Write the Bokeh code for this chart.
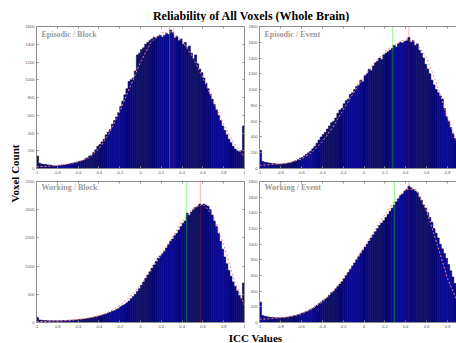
import math
from bokeh.plotting import figure
from bokeh.layouts import column, row
from bokeh.models import LinearAxis, FixedTicker, Range1d, Label, Span
from bokeh.embed import file_html
from bokeh.resources import INLINE

# ---------------- data ----------------
bin_centers = [round(-0.99 + 0.02 * i, 2) for i in range(100)]
bin_width = 0.02

episodic_block = [140, 60, 50, 45, 45, 40, 40, 35, 30, 28,
                  35, 35, 40, 40, 45, 50, 55, 60, 65, 70,
                  80, 85, 90, 110, 120, 140, 150, 180, 210, 250,
                  270, 300, 330, 380, 410, 440, 500, 540, 580, 630,
                  700, 760, 830, 900, 980, 1000, 1020, 1100, 1280, 1300,
                  1340, 1360, 1400, 1420, 1440, 1460, 1480, 1470, 1490, 1500,
                  1480, 1500, 1520, 1510, 1560, 1530, 1470, 1490, 1440, 1460,
                  1400, 1420, 1360, 1380, 1300, 1240, 1280, 1180, 1120, 1080,
                  1020, 960, 900, 840, 780, 720, 660, 600, 540, 480,
                  430, 380, 330, 290, 250, 220, 200, 190, 200, 480]

episodic_event = [230, 90, 80, 75, 70, 65, 60, 60, 55, 55,
                  55, 60, 60, 65, 70, 80, 90, 100, 110, 130,
                  140, 160, 180, 200, 220, 250, 280, 320, 360, 400,
                  430, 460, 500, 540, 580, 600, 640, 700, 740, 760,
                  820, 860, 880, 940, 960, 1000, 1040, 1060, 1120, 1100,
                  1180, 1200, 1260, 1240, 1300, 1340, 1360, 1400, 1380, 1440,
                  1460, 1480, 1500, 1520, 1560, 1540, 1580, 1600, 1590, 1610,
                  1620, 1660, 1600, 1620, 1560, 1580, 1500, 1460, 1400, 1320,
                  1260, 1200, 1120, 1060, 1000, 960, 920, 880, 760, 660,
                  600, 520, 440, 380, 320, 270, 230, 200, 190, 300]

working_block = [90, 45, 40, 35, 35, 30, 30, 30, 30, 30,
                 30, 30, 35, 35, 35, 40, 40, 45, 45, 50,
                 55, 60, 60, 65, 70, 80, 85, 95, 100, 110,
                 120, 130, 140, 150, 170, 180, 200, 210, 230, 250,
                 280, 300, 320, 350, 380, 420, 460, 500, 550, 600,
                 660, 720, 780, 840, 900, 960, 1020, 1080, 1140, 1180,
                 1220, 1260, 1320, 1380, 1440, 1480, 1540, 1580, 1640, 1700,
                 1760, 1800, 1940, 1900, 1960, 2000, 2040, 2060, 2100, 2080,
                 2100, 2080, 2060, 2000, 1900, 1800, 1700, 1580, 1440, 1300,
                 1160, 1040, 920, 820, 720, 640, 560, 480, 420, 700]

working_event = [260, 90, 80, 75, 70, 65, 65, 60, 60, 60,
                 60, 65, 65, 70, 75, 80, 85, 90, 100, 110,
                 120, 130, 140, 150, 170, 180, 200, 220, 240, 260,
                 280, 300, 320, 350, 380, 400, 430, 460, 490, 520,
                 560, 600, 640, 680, 720, 760, 800, 840, 880, 920,
                 960, 1000, 1040, 1080, 1120, 1160, 1200, 1240, 1270, 1300,
                 1340, 1380, 1420, 1460, 1500, 1540, 1580, 1620, 1640, 1680,
                 1700, 1740, 1720, 1700, 1680, 1660, 1600, 1560, 1500, 1460,
                 1400, 1340, 1280, 1200, 1140, 1080, 1000, 940, 880, 820,
                 740, 660, 580, 500, 420, 360, 300, 260, 230, 300]

fit_x = [round(-1 + 0.1 * i, 1) for i in range(21)]
fit_episodic_block = [20, 25, 35, 50, 75, 120, 220, 400, 640, 920, 1200,
                      1420, 1530, 1540, 1440, 1260, 1020, 760, 500, 280, 130]
fit_episodic_event = [40, 50, 60, 80, 120, 200, 340, 520, 740, 960, 1160,
                      1340, 1480, 1580, 1640, 1600, 1400, 1060, 640, 300, 120]
fit_working_block = [15, 20, 25, 35, 50, 80, 120, 190, 300, 460, 660,
                     920, 1200, 1500, 1800, 2020, 2100, 1900, 1380, 760, 300]
fit_working_event = [40, 50, 60, 75, 110, 170, 260, 390, 560, 760, 960,
                     1170, 1380, 1560, 1700, 1700, 1420, 1000, 560, 250, 100]

x_ticks = [-1, -0.8, -0.6, -0.4, -0.2, 0, 0.2, 0.4, 0.6, 0.8, 1]
x_tick_labels = ["-1", "-0.8", "-0.6", "-0.4", "-0.2", "0", "0.2", "0.4", "0.6", "0.8", "1"]

panel_titles = ["Episodic / Block", "Episodic / Event", "Working / Block", "Working / Event"]
mean_lines = [0.28, 0.275, 0.445, 0.29]     # green
median_lines = [0.32, 0.43, 0.575, 0.43]    # red
y_max = [1600, 1800, 2500, 1800]
y_step = [200, 200, 500, 200]

TICK_FONT = "Liberation Sans"
SERIF = "Liberation Serif"
AXIS_GRAY = "#8c8c8c"


def make_panel(counts, fit, title, g, r, ymax, ystep, width, height,
               mb_left, mb_right, mb_top, mb_bottom, x_end, right_box):
    p = figure(width=width, height=height, output_backend="svg",
               toolbar_location=None, x_range=Range1d(-1, x_end),
               y_range=Range1d(0, ymax),
               min_border_left=mb_left, min_border_right=mb_right,
               min_border_top=mb_top, min_border_bottom=mb_bottom)
    p.xgrid.visible = False
    p.ygrid.visible = False
    p.background_fill_color = "white"
    p.border_fill_color = "white"
    p.outline_line_color = AXIS_GRAY if right_box else None

    p.vbar(x=bin_centers, top=counts, width=bin_width, bottom=0,
           fill_color="#0a0a96", line_color="#000040", line_width=0.5)
    p.line(fit_x, fit, line_color="#ff8080", line_dash="2 2", line_width=1)

    p.add_layout(Span(location=g, dimension="height", line_color="#00ee00",
                      line_alpha=0.45, line_width=1))
    p.add_layout(Span(location=r, dimension="height", line_color="#ff0000",
                      line_alpha=0.3, line_width=1))

    yt = list(range(0, ymax + 1, ystep))
    for ax in (p.xaxis[0], p.yaxis[0]):
        ax.axis_line_color = AXIS_GRAY
        ax.major_tick_line_color = AXIS_GRAY
        ax.major_tick_in = 2
        ax.major_tick_out = 0
        ax.minor_tick_line_color = None
        ax.major_label_text_font = TICK_FONT
        ax.major_label_text_font_size = "4px"
        ax.major_label_text_color = "#555555"
        ax.major_label_standoff = 2
    p.xaxis[0].ticker = FixedTicker(ticks=x_ticks)
    p.xaxis[0].major_label_overrides = {t: l for t, l in zip(x_ticks, x_tick_labels)}
    p.yaxis[0].ticker = FixedTicker(ticks=yt)
    p.yaxis[0].major_label_overrides = {t: str(t) for t in yt}

    top_ax = LinearAxis(ticker=FixedTicker(ticks=x_ticks),
                        major_label_overrides={t: "" for t in x_ticks},
                        axis_line_color=AXIS_GRAY, major_tick_line_color=AXIS_GRAY,
                        major_tick_in=2, major_tick_out=0, minor_tick_line_color=None,
                        major_label_standoff=0, major_label_text_font_size="1px")
    p.add_layout(top_ax, "above")
    if right_box:
        right_ax = LinearAxis(ticker=FixedTicker(ticks=yt),
                              major_label_overrides={t: "" for t in yt},
                              axis_line_color=AXIS_GRAY, major_tick_line_color=AXIS_GRAY,
                              major_tick_in=2, major_tick_out=0, minor_tick_line_color=None,
                              major_label_standoff=0, major_label_text_font_size="1px")
        p.add_layout(right_ax, "right")

    p.add_layout(Label(x=5, y=height - mb_top - mb_bottom - 10, x_units="screen",
                       y_units="screen", text=title, text_font=SERIF,
                       text_font_style="bold", text_font_size="8px",
                       text_color="#9a9a9a", text_baseline="middle"))
    return p


LW, RW = 223, 211
TH, BH = 154, 154
RIGHT_END = -1 + 197 / 104.5

tl = make_panel(episodic_block, fit_episodic_block, panel_titles[0], mean_lines[0], median_lines[0],
                y_max[0], y_step[0], LW, TH, 13, 1, 4, 6, 1, True)
tr = make_panel(episodic_event, fit_episodic_event, panel_titles[1], mean_lines[1], median_lines[1],
                y_max[1], y_step[1], RW, TH, 14, 0, 4, 6, RIGHT_END, False)
bl = make_panel(working_block, fit_working_block, panel_titles[2], mean_lines[2], median_lines[2],
                y_max[2], y_step[2], LW, BH, 13, 1, 5, 4, 1, True)
br = make_panel(working_event, fit_working_event, panel_titles[3], mean_lines[3], median_lines[3],
                y_max[3], y_step[3], RW, BH, 14, 0, 5, 4, RIGHT_END, False)


def text_fig(width, height, text, x, y, angle=0.0, baseline="middle", size="12px"):
    f = figure(width=width, height=height, output_backend="svg", toolbar_location=None,
               x_range=Range1d(0, 1), y_range=Range1d(0, 1),
               x_axis_type=None, y_axis_type=None,
               min_border=0, min_border_left=0, min_border_right=0,
               min_border_top=0, min_border_bottom=0)
    f.outline_line_color = None
    f.xgrid.visible = False
    f.ygrid.visible = False
    f.add_layout(Label(x=x, y=y, x_units="screen", y_units="screen", text=text,
                       text_font=SERIF, text_font_style="bold", text_font_size=size,
                       text_color="black", text_align="center", text_baseline=baseline,
                       angle=angle))
    return f


header = text_fig(456, 22, "Reliability of All Voxels (Whole Brain)", 251, 7)
ylab = text_fig(22, 308, "Voxel Count", 14, 157, angle=math.pi / 2, size="11px")
footer = text_fig(456, 13, "ICC Values", 255, 0, baseline="bottom", size="11px")

layout = column(header, row(ylab, column(row(tl, tr), row(bl, br))), footer)

open("out.html", "w").write(file_html(layout, INLINE))
